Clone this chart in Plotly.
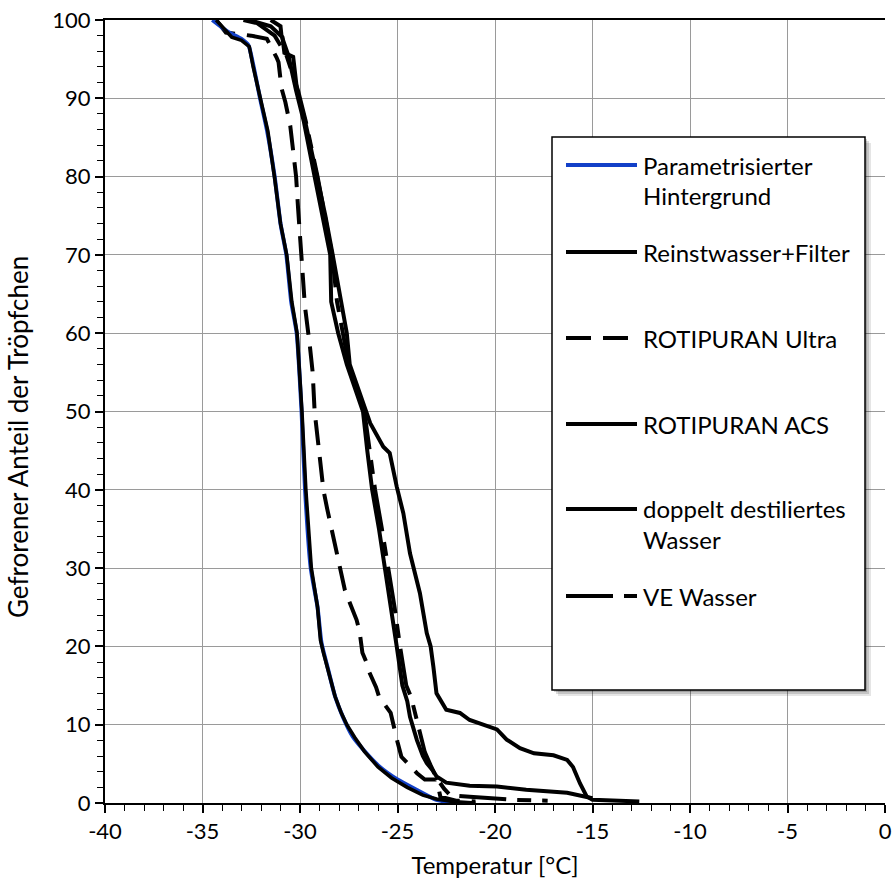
import plotly.graph_objects as go

# ---------------- data ----------------
T_bg = [-34.5, -33.7, -33.0, -32.65, -32.4, -32.05, -31.7, -31.3, -31.0, -30.7, -30.45, -30.17,
        -29.92, -29.74, -29.45, -29.1, -28.9, -28.55, -28.2, -27.8, -27.3, -26.75, -25.9, -25.0,
        -24.0, -23.0, -22.0]
F_bg = [100, 98.5, 97.6, 96.8, 94.3, 90, 86, 80, 74, 70, 64, 60,
        50, 40, 30, 25, 20.5, 17, 13.6, 11, 8.5, 6.8, 4.6, 3.0,
        1.66, 0.4, 0]

T_rw = [-34.3, -33.7, -33.5, -33.0, -32.6, -32.4, -32.0, -31.65, -31.3, -31.0, -30.68, -30.42,
        -30.15, -29.9, -29.7, -29.42, -29.1, -28.95, -28.8, -28.55, -28.2, -27.9, -27.6, -27.2,
        -26.7, -26.0, -25.3, -24.5, -23.7, -23.0, -22.2, -21.0]
F_rw = [100, 98.4, 97.8, 97.4, 96.6, 94.0, 89.8, 85.8, 79.8, 74, 70, 64,
        60, 50, 40, 30, 25, 20.8, 19.2, 17, 13.6, 11.6, 10, 8.4,
        6.6, 4.6, 3.2, 2.0, 1.0, 0.5, 0.2, 0]

T_ul = [-34.3, -33.8, -32.5, -31.7, -31.2, -31.1, -30.95, -30.75, -30.5, -30.3, -30.2, -30.1,
        -30.0, -29.9, -29.75, -29.5, -29.35, -29.25, -29.1, -29.0, -28.8, -28.6, -28.45, -28.3,
        -28.1, -27.9, -27.7, -27.5, -27.1, -26.95, -26.8, -26.6, -26.5, -26.1, -25.95, -25.35,
        -25.2, -25.0, -24.8, -24.2, -24.0, -23.6, -23.0, -22.8, -22.0, -21.0]
F_ul = [100, 98.4, 98.0, 97.6, 95.2, 94.6, 91.3, 89.5, 86.5, 82.5, 80, 76,
        72, 68, 63.5, 58.5, 55, 50, 47, 44, 40, 37.5, 35.8, 34,
        32, 30, 27.2, 25.9, 23.4, 22, 19.2, 18, 17, 14.8, 13.6, 11.5,
        9.7, 7.8, 5.9, 4.2, 3.8, 3.0, 3.0, 0.8, 0.3, 0.2]

T_acs = [-31.5, -31.0, -30.95, -30.6, -30.2, -29.8, -29.25, -28.85, -28.45, -28.4, -28.04, -27.6,
         -26.77, -26.55, -26.3, -25.95, -25.64, -25.3, -25.04, -24.75, -24.5, -24.36, -24.2, -24.0,
         -23.7, -23.5, -23.2, -23.0, -22.5, -21.3, -19.9, -18.4, -16.3, -15.0]
F_acs = [100, 99.2, 98, 95.5, 91, 87, 80, 75, 70, 64, 60, 56,
         50, 45, 40, 35, 30, 25, 20, 15, 13, 11, 9.5, 8,
         6, 5.1, 4.2, 3.4, 2.6, 2.2, 2.1, 1.7, 1.3, 0.6]

T_dd = [-32.6, -31.5, -30.9, -30.8, -30.35, -30.15, -29.75, -29.13, -28.7, -28.3, -27.8, -27.6,
        -27.45, -26.6, -26.4, -25.73, -25.4, -25.04, -24.7, -24.36, -23.85, -23.5, -23.3, -23.16,
        -23.0, -22.5, -21.8, -21.3, -20.4, -19.9, -19.4, -18.72, -18.0, -17.0, -16.3, -16.0,
        -15.64, -15.3, -15.0, -12.6]
F_dd = [100, 99.2, 97.8, 95.8, 95.3, 91, 87.2, 80, 75, 69.7, 63, 60,
        56, 50, 48.5, 45.5, 44.7, 40.4, 37, 31.9, 26.8, 21.7, 20, 17.4,
        14, 11.9, 11.5, 10.6, 9.75, 9.4, 8.1, 7.0, 6.35, 6.1, 5.5, 4.6,
        2.5, 0.85, 0.4, 0.2]

T_ve = [-32.9, -32.2, -31.3, -30.7, -30.1, -29.7, -29.1, -28.75, -28.35, -28.1, -27.8, -27.5,
        -26.7, -26.45, -26.15, -25.8, -25.45, -25.15, -24.87, -24.55, -24.3, -24.0, -23.8, -23.6,
        -23.3, -23.0, -22.6, -22.3, -21.3, -20.0, -19.0, -17.3]
F_ve = [100, 99.6, 98, 95.5, 91, 87, 80, 75, 70, 64, 60, 56,
        50, 45, 40, 35, 30, 25, 20, 15, 13.5, 10.5, 8.5, 6.5,
        4.8, 3.2, 1.8, 1.0, 0.8, 0.6, 0.4, 0.3]

x_tickvals = [-40, -35, -30, -25, -20, -15, -10, -5, 0]
x_ticktext = ["-40", "-35", "-30", "-25", "-20", "-15", "-10", "-5", "0"]
y_tickvals = [0, 10, 20, 30, 40, 50, 60, 70, 80, 90, 100]

names = ["Parametrisierter Hintergrund", "Reinstwasser+Filter", "ROTIPURAN Ultra",
         "ROTIPURAN ACS", "doppelt destiliertes Wasser", "VE Wasser"]

# ---------------- figure ----------------
W, H = 895, 893
ML, MR, MT, MB = 105, 10, 20, 90
FONT = "Lato, 'Open Sans', sans-serif"
TICK_SIZE = 22
TEXT_SIZE = 24

DASH_ULTRA = "25px,12px"
DASH_VE = "47px,11px,14px,11px"

fig = go.Figure()
series = [
    (T_ve, F_ve, names[5], dict(color="black", width=4, dash=DASH_VE)),
    (T_acs, F_acs, names[3], dict(color="black", width=4)),
    (T_dd, F_dd, names[4], dict(color="black", width=4)),
    (T_ul, F_ul, names[2], dict(color="black", width=4, dash=DASH_ULTRA)),
    (T_bg, F_bg, names[0], dict(color="#1240c8", width=4, shape="spline", smoothing=0.6)),
    (T_rw, F_rw, names[1], dict(color="black", width=3.6)),
]
for tx, fy, nm, ln in series:
    fig.add_trace(go.Scatter(x=tx, y=fy, mode="lines", name=nm, line=ln,
                             showlegend=False, hoverinfo="skip"))

# ---------------- hand-built legend (pixel positions -> paper) ----------------
PW = W - ML - MR
PH = H - MT - MB


def px(x):
    return (x - ML) / PW


def py(y):
    return (H - MB - y) / PH


shapes = []
# soft shadow
for off, op in [(6, 0.10), (4, 0.14), (2, 0.18)]:
    shapes.append(dict(type="rect", xref="paper", yref="paper",
                       x0=px(552 + off), x1=px(865 + off), y0=py(690 + off), y1=py(137 + off),
                       line=dict(width=0), fillcolor=f"rgba(0,0,0,{op})"))
shapes.append(dict(type="rect", xref="paper", yref="paper",
                   x0=px(552), x1=px(865), y0=py(690), y1=py(137),
                   line=dict(color="black", width=1.5), fillcolor="white"))

legend_rows = [
    (165, ["Parametrisierter", "Hintergrund"], dict(color="#1240c8", width=4)),
    (252, ["Reinstwasser+Filter"], dict(color="black", width=4)),
    (338, ["ROTIPURAN Ultra"], dict(color="black", width=4, dash=DASH_ULTRA)),
    (424, ["ROTIPURAN ACS"], dict(color="black", width=4)),
    (509, ["doppelt destiliertes", "Wasser"], dict(color="black", width=4)),
    (596, ["VE Wasser"], dict(color="black", width=4, dash=DASH_VE)),
]
annotations = []
for yy, lines, ln in legend_rows:
    shapes.append(dict(type="line", xref="paper", yref="paper",
                       x0=px(566), x1=px(637), y0=py(yy), y1=py(yy), line=ln))
    for k, txt in enumerate(lines):
        annotations.append(dict(xref="paper", yref="paper", x=px(641), y=py(yy + 30 * k),
                                text=txt, showarrow=False, xanchor="left", yanchor="middle",
                                font=dict(family=FONT, size=TEXT_SIZE, color="black")))

# y-axis title (placed as in the reference, slightly below the plot centre)
annotations.append(dict(xref="paper", yref="paper", x=px(18), y=py(437),
                        text="Gefrorener Anteil der Tröpfchen", textangle=-90, showarrow=False,
                        xanchor="center", yanchor="middle",
                        font=dict(family=FONT, size=26, color="black")))

axis_common = dict(showline=True, linecolor="black", linewidth=2,
                   ticks="outside", ticklen=8, tickwidth=1.5, tickcolor="black",
                   showgrid=True, gridcolor="#9a9a9a", gridwidth=1.3,
                   zeroline=False, automargin=False,
                   tickfont=dict(family=FONT, size=TICK_SIZE, color="black"))

fig.update_layout(
    width=W, height=H,
    margin=dict(l=ML, r=MR, t=MT, b=MB),
    paper_bgcolor="white", plot_bgcolor="white",
    shapes=shapes, annotations=annotations,
    xaxis=dict(range=[-40, 0], tickvals=x_tickvals, ticktext=x_ticktext, mirror=True,
               minor=dict(dtick=1, ticks="outside", ticklen=6, tickcolor="black", tickwidth=1.2,
                          showgrid=False),
               title=dict(text="Temperatur [°C]", standoff=14,
                          font=dict(family=FONT, size=TEXT_SIZE, color="black")),
               **axis_common),
    yaxis=dict(range=[0, 100], tickvals=y_tickvals,
               minor=dict(dtick=2, ticks="outside", ticklen=6, tickcolor="black", tickwidth=1.2,
                          showgrid=False),
               **axis_common),
    showlegend=False,
)

fig.write_html("out.html")
